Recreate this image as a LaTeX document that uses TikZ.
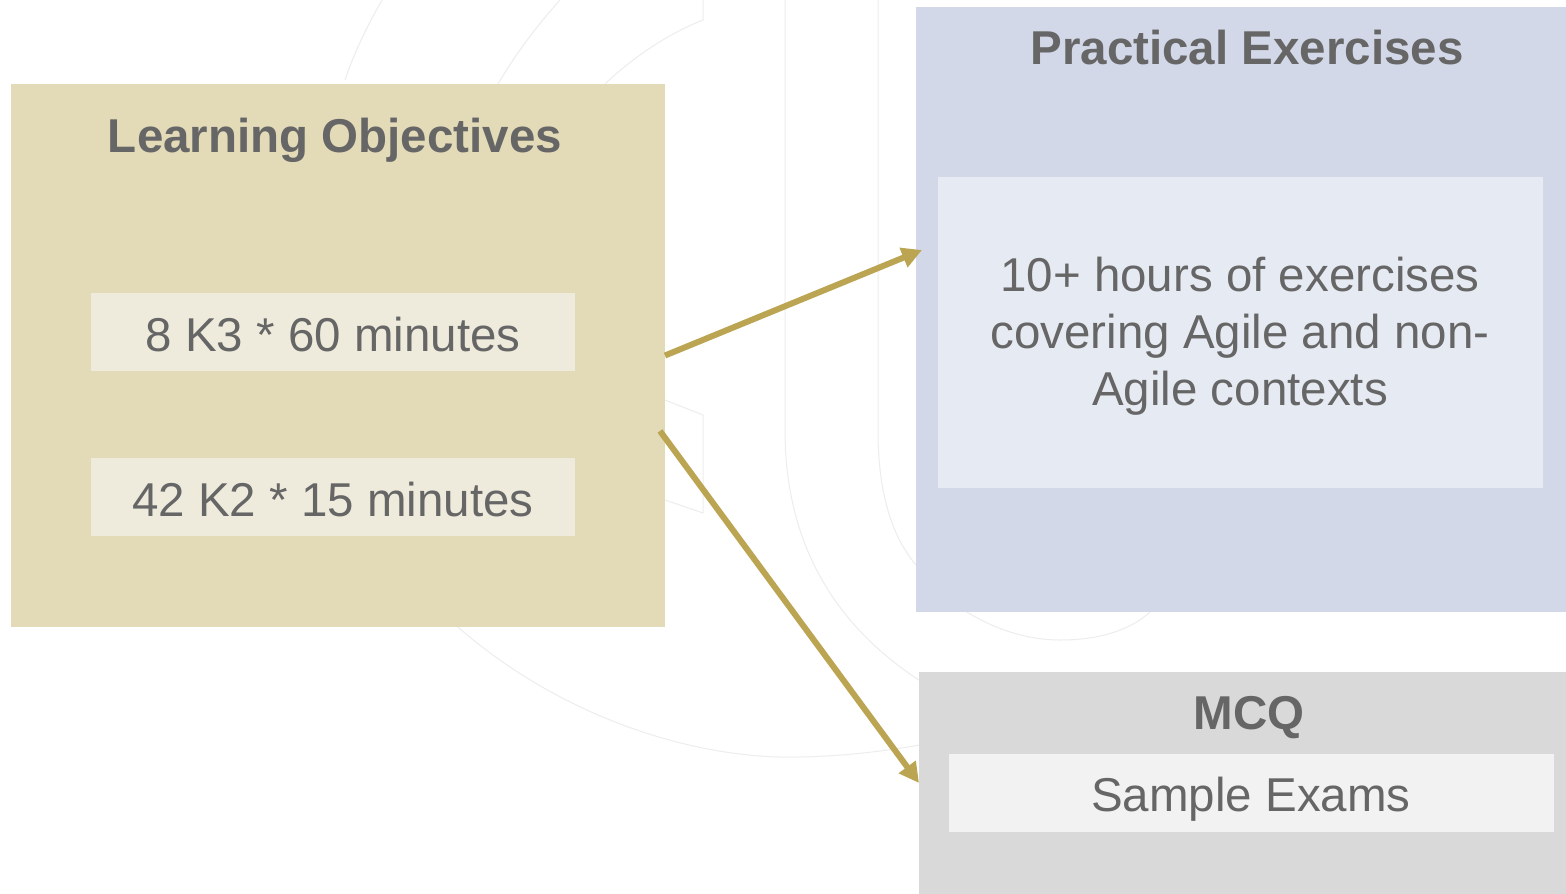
\documentclass[tikz,border=0pt]{standalone}
\usepackage{fontspec}
\setmainfont{Liberation Sans}
\usetikzlibrary{arrows.meta}
\definecolor{txt}{HTML}{666666}
\definecolor{loBg}{HTML}{E3DAB8}
\definecolor{loIn}{HTML}{EFEBDC}
\definecolor{peBg}{HTML}{D2D8E7}
\definecolor{peIn}{HTML}{E6EAF2}
\definecolor{mqBg}{HTML}{D9D9D9}
\definecolor{mqIn}{HTML}{F2F2F2}
\definecolor{arrC}{HTML}{BBA552}
\definecolor{wm}{HTML}{EDEDED}
\tikzset{
  panel/.style={rectangle, inner sep=0pt, outer sep=0pt, draw=none},
  ttl/.style={font=\fontsize{47.5}{57}\selectfont\bfseries, text=txt, anchor=base, inner sep=0pt},
  body/.style={font=\fontsize{47.5}{57}\selectfont, text=txt, anchor=base, inner sep=0pt},
  arr/.style={draw=arrC, line width=6pt, -{Triangle[length=20pt,width=20pt]}},
  wmline/.style={draw=wm, line width=1pt}
}
\begin{document}
\begin{tikzpicture}[x=1pt,y=-1pt]
\useasboundingbox (0,0) rectangle (1566,894);
\fill[white] (0,0) rectangle (1566,894);
% faint watermark
\draw[wmline] (785,0) -- (785,430) .. controls (785,560) and (850,640) .. (935,690);
\draw[wmline] (878,0) -- (878,430) .. controls (878,500) and (895,540) .. (916,565);
\draw[wmline] (450,620) .. controls (560,720) and (700,760) .. (800,757) .. controls (850,756) and (890,750) .. (920,745);
\draw[wmline] (345,80) .. controls (355,50) and (368,25) .. (382,0);
\draw[wmline] (498,84) .. controls (515,55) and (535,28) .. (560,0);
\draw[wmline] (605,84) .. controls (630,60) and (665,35) .. (703,20) -- (703,0);
\draw[wmline] (665,400) -- (703,415) -- (703,513) -- (665,500);
\draw[wmline] (920,575) .. controls (960,615) and (1010,640) .. (1060,640) .. controls (1100,640) and (1130,630) .. (1150,612);
% panels
\node[panel, fill=loBg, minimum width=654pt, minimum height=543pt] (lo) at (338,355.5) {};
\node[panel, fill=loIn, minimum width=484pt, minimum height=78pt] (lo1) at (333,332) {};
\node[panel, fill=loIn, minimum width=484pt, minimum height=78pt] (lo2) at (333,497) {};
\node[panel, fill=peBg, minimum width=650pt, minimum height=605pt] (pe) at (1241,309.5) {};
\node[panel, fill=peIn, minimum width=605pt, minimum height=311pt] (pe1) at (1240.5,332.5) {};
\node[panel, fill=mqBg, minimum width=647pt, minimum height=222pt] (mq) at (1242.5,783) {};
\node[panel, fill=mqIn, minimum width=605pt, minimum height=78pt] (mq1) at (1251.5,793) {};
% texts
\node[ttl] (loT) at (335,152) {Learning Objectives};
\node[body] (lo1T) at (333,351) {8 K3 * 60 minutes};
\node[body] (lo2T) at (333,516) {42 K2 * 15 minutes};
\node[ttl] (peT) at (1247,64) {Practical Exercises};
\node[body, anchor=center, align=center] (pe1T) at (1240,336) {10+ hours of exercises\\covering Agile and non-\\Agile contexts};
\node[ttl] (mqT) at (1249,729) {MCQ};
\node[body] (mq1T) at (1251,811) {Sample Exams};
% arrows
\draw[arr] (lo.east) -- ([shift={(6,-59.5)}]pe.west);
\draw[arr] ([shift={(-5,75.5)}]lo.east) -- (mq.west);
\end{tikzpicture}
\end{document}
